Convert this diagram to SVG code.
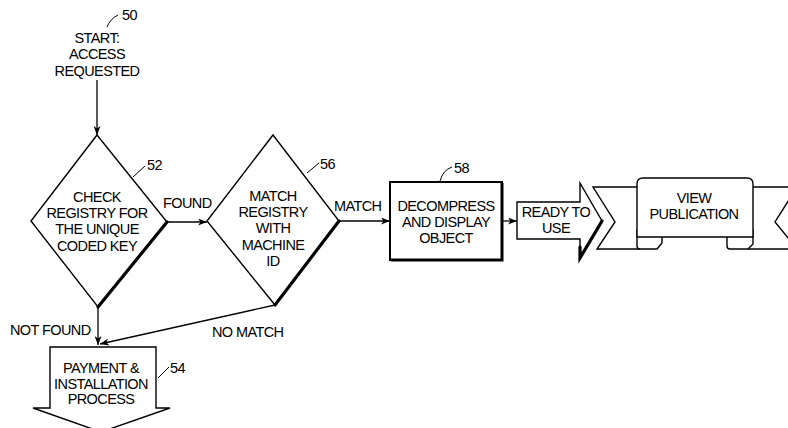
<svg xmlns="http://www.w3.org/2000/svg" width="788" height="428" viewBox="0 0 788 428">
<style>
.t{font-family:"Liberation Sans",Arial,sans-serif;font-size:14.5px;letter-spacing:-0.6px;fill:#000;text-anchor:middle}
.l{font-family:"Liberation Sans",Arial,sans-serif;font-size:14.5px;letter-spacing:-0.6px;fill:#000}
.s{fill:#fff;stroke:#000;stroke-width:1.4;stroke-linejoin:miter}
.b{fill:none;stroke:#000;stroke-width:3.2;stroke-linecap:round}
.c{fill:none;stroke:#000;stroke-width:1.3}
.ld{fill:none;stroke:#000;stroke-width:1}
</style>
<defs>
<marker id="ah" markerUnits="userSpaceOnUse" markerWidth="9" markerHeight="7" refX="9" refY="3.5" orient="auto">
<path d="M0,0 L9,3.5 L0,7 L2.5,3.5 z" fill="#000"/>
</marker>
</defs>
<rect width="788" height="428" fill="#fff"/>

<g id="n50">
<text class="t" x="97" y="43">START:</text>
<text class="t" x="97" y="59">ACCESS</text>
<text class="t" x="97" y="76">REQUESTED</text>
<path class="ld" d="M107,27 Q110,19 118,15"/>
<text class="l" x="122" y="20">50</text>
</g>

<g id="n52">
<polygon class="s" points="97,135 167,222 98,307 31,221"/>
<line class="b" x1="167" y1="222" x2="98" y2="307"/>
<text class="t" x="97" y="202">CHECK</text>
<text class="t" x="97" y="218">REGISTRY FOR</text>
<text class="t" x="97" y="234">THE UNIQUE</text>
<text class="t" x="97" y="251">CODED KEY</text>
<path class="ld" d="M133,177 L145,166"/>
<text class="l" x="147" y="170">52</text>
</g>

<g id="n56">
<polygon class="s" points="273,135 339,221 275,305 207,221"/>
<line class="b" x1="339" y1="221" x2="275" y2="305"/>
<text class="t" x="273" y="201">MATCH</text>
<text class="t" x="273" y="217">REGISTRY</text>
<text class="t" x="273" y="233">WITH</text>
<text class="t" x="273" y="250">MACHINE</text>
<text class="t" x="273" y="266">ID</text>
<path class="ld" d="M307,173 L319,163"/>
<text class="l" x="320" y="169">56</text>
</g>

<g id="n58">
<rect x="390" y="182" width="112" height="78" fill="#fff" stroke="#000" stroke-width="2"/>
<polyline points="502,183 502,260 391,260" fill="none" stroke="#000" stroke-width="3"/>
<text class="t" x="446" y="211">DECOMPRESS</text>
<text class="t" x="446" y="227">AND DISPLAY</text>
<text class="t" x="446" y="243">OBJECT</text>
<path class="ld" d="M440,181 Q443,170 452,167"/>
<text class="l" x="454" y="173">58</text>
</g>

<g id="ready">
<polygon class="s" points="517,202 580,202 580,183 602,221 580,258 580,239 517,239"/>
<polyline class="b" points="602,221 580,258 580,247"/>
<text class="t" x="556" y="217">READY TO</text>
<text class="t" x="556" y="233">USE</text>
</g>

<g id="view">
<path class="s" d="M637,187 L593,187 L615,222 L597,249 L640,249"/>
<path class="s" d="M753,187 L797,187 L775,222 L797,249 L748,249"/>
<path class="s" d="M637,230 L637,246 Q637,249 640,249 L657,249 L662,243 L662,230 Z"/>
<path class="s" d="M727,230 L727,246 Q727,249 730,249 L748,249 L753,244 L753,230 Z"/>
<path class="s" d="M637,237 L637,184 Q637,178 643,178 L747,178 Q753,178 753,184 L753,237 Z"/>
<text class="t" x="694" y="203">VIEW</text>
<text class="t" x="694" y="219">PUBLICATION</text>
</g>

<g id="n54">
<polygon class="s" points="50,347 156,347 156,408 170,408 101,432 33,408 50,408"/>
<text class="t" x="101" y="373">PAYMENT &amp;</text>
<text class="t" x="101" y="389">INSTALLATION</text>
<text class="t" x="101" y="404">PROCESS</text>
<path class="ld" d="M158,378 L169,367"/>
<text class="l" x="170" y="373">54</text>
</g>

<g id="connectors">
<line class="c" x1="97" y1="80" x2="97" y2="135" marker-end="url(#ah)"/>
<line class="c" x1="167" y1="222" x2="207" y2="222" marker-end="url(#ah)"/>
<line class="c" x1="339" y1="221" x2="390" y2="221" marker-end="url(#ah)"/>
<line class="c" x1="502" y1="221" x2="517" y2="221" marker-end="url(#ah)"/>
<line class="c" x1="98" y1="307" x2="98" y2="345" marker-end="url(#ah)"/>
<line class="c" x1="275" y1="305" x2="100" y2="344" marker-end="url(#ah)"/>
<text class="l" x="163" y="208">FOUND</text>
<text class="l" x="334" y="211">MATCH</text>
<text class="l" x="10" y="335">NOT FOUND</text>
<text class="l" x="212" y="337">NO MATCH</text>
</g>
</svg>
